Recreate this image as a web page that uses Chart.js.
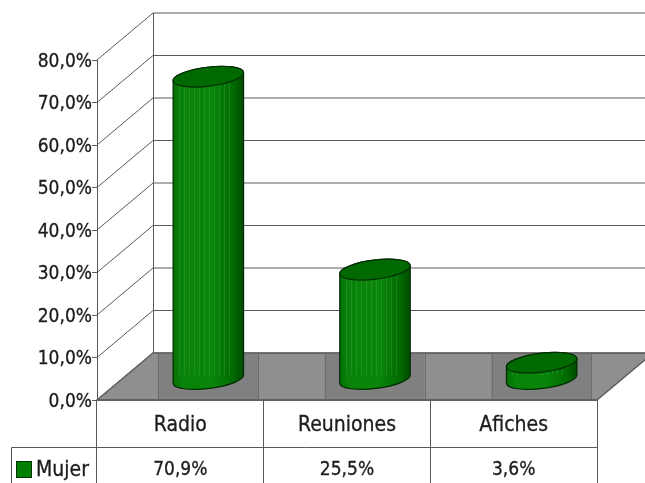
<!DOCTYPE html>
<html>
<head>
<meta charset="utf-8">
<style>
  html, body { margin: 0; padding: 0; background: #fff; overflow: hidden; }
  #grafico { display: block; }
</style>
<script src="https://cdn.jsdelivr.net/npm/chart.js@4"></script>
</head>
<body>
<div style="width:645px;height:483px;position:relative">
  <canvas id="grafico"></canvas>
</div>
<script>
const categorias = ["Radio", "Reuniones", "Afiches"];
const valoresMujer = [70.9, 25.5, 3.6];
const rotulosTabla = ["70,9%", "25,5%", "3,6%"];
const nomeSerie = "Mujer";

const fonte = '"DejaVu Sans Condensed", "DejaVu Sans", sans-serif';
const corLinha = "#5a5a5a";
const corTexto = "#1c1c1c";
// profundidade da perspectiva 3D
const fundoX = 56;
const fundoY = -47;
const desvioCilindro = 28;

function textoForte(ctx, texto, x, y) {
  ctx.fillText(texto, x, y);
  ctx.strokeText(texto, x, y);
}

const cenario3d = {
  id: "cenario3d",
  beforeDatasetsDraw(chart) {
    const { ctx, chartArea, scales } = chart;
    const { left, right, bottom } = chartArea;
    const topoPiso = bottom + fundoY;
    ctx.save();
    ctx.lineWidth = 1;
    ctx.strokeStyle = corLinha;

    // linhas das paredes
    scales.y.ticks.forEach((t) => {
      const y = scales.y.getPixelForValue(t.value);
      ctx.beginPath();
      ctx.moveTo(left, y);
      ctx.lineTo(left + fundoX, y + fundoY);
      ctx.lineTo(chart.width + 5, y + fundoY);
      ctx.stroke();
    });
    ctx.beginPath();
    ctx.moveTo(left + fundoX + 0.5, scales.y.getPixelForValue(80) + fundoY);
    ctx.lineTo(left + fundoX + 0.5, topoPiso);
    ctx.stroke();

    // piso
    const piso = new Path2D();
    piso.moveTo(left, bottom);
    piso.lineTo(right, bottom);
    piso.lineTo(right + fundoX, topoPiso);
    piso.lineTo(left + fundoX, topoPiso);
    piso.closePath();
    ctx.fillStyle = "#808080";
    ctx.fill(piso);

    // manchas mais claras entre os cilindros
    ctx.save();
    ctx.clip(piso);
    const barras = chart.getDatasetMeta(0).data;
    const cantos = [left - 5];
    barras.forEach((b) => {
      cantos.push(b.x + desvioCilindro - b.width / 2 - 15);
      cantos.push(b.x + desvioCilindro + b.width / 2 + 14);
    });
    cantos.push(chart.width + 10);
    for (let i = 0; i < cantos.length; i += 2) {
      const x = cantos[i];
      const w = cantos[i + 1] - x;
      ctx.fillStyle = "#8f8f8f";
      ctx.fillRect(x, topoPiso, w, -fundoY);
      ctx.strokeStyle = "#6c6c6c";
      ctx.strokeRect(Math.round(x) + 0.5, topoPiso + 0.5, Math.round(w), -fundoY - 1);
    }
    ctx.restore();

    ctx.strokeStyle = "#606060";
    ctx.lineWidth = 1.5;
    ctx.stroke(piso);
    ctx.beginPath();
    ctx.moveTo(left, bottom);
    ctx.lineTo(right, bottom);
    ctx.lineWidth = 2;
    ctx.stroke();

    // tabela de dados
    ctx.lineWidth = 1;
    ctx.strokeStyle = corLinha;
    ctx.beginPath();
    ctx.moveTo(11.5, chart.height);
    ctx.lineTo(11.5, 447.5);
    ctx.lineTo(right, 447.5);
    ctx.stroke();
    ctx.fillStyle = "#008000";
    ctx.strokeStyle = "#003300";
    ctx.fillRect(16, 461, 16, 17);
    ctx.strokeRect(16.5, 461.5, 15, 16);
    ctx.fillStyle = corTexto;
    ctx.strokeStyle = corTexto;
    ctx.lineWidth = 0.3;
    ctx.textBaseline = "middle";
    ctx.textAlign = "left";
    ctx.font = "21px " + fonte;
    textoForte(ctx, nomeSerie, 36, 471);
    ctx.font = "19px " + fonte;
    ctx.textAlign = "center";
    rotulosTabla.forEach((r, i) => {
      textoForte(ctx, r, scales.x.getPixelForValue(i), 470);
    });
    ctx.restore();
  },
  beforeDatasetDraw(chart, args) {
    const { ctx, scales } = chart;
    const meta = chart.getDatasetMeta(args.index);
    const base = scales.y.getPixelForValue(0);
    const rot = (-7 * Math.PI) / 180;
    const ry = 9.5;
    meta.data.forEach((bar) => {
      const cx = bar.x + desvioCilindro;
      const rx = bar.width / 2;
      const topo = bar.y - 22;
      const fim = base - 21;
      ctx.save();
      const corpo = new Path2D();
      corpo.ellipse(cx, fim, rx, ry, rot, 0, Math.PI, false);
      corpo.ellipse(cx, topo, rx, ry, rot, Math.PI, 0, false);
      corpo.closePath();
      const grad = ctx.createLinearGradient(cx - rx, 0, cx + rx, 0);
      grad.addColorStop(0, "#056f05");
      grad.addColorStop(0.12, "#088208");
      grad.addColorStop(0.55, "#0a860a");
      grad.addColorStop(0.85, "#006a00");
      grad.addColorStop(1, "#004a00");
      ctx.fillStyle = grad;
      ctx.fill(corpo);

      ctx.save();
      ctx.clip(corpo);
      ctx.strokeStyle = "rgba(110,200,110,0.2)";
      ctx.lineWidth = 1;
      for (let x = cx - rx + 6; x < cx + rx - 10; x += 5) {
        ctx.beginPath();
        ctx.moveTo(Math.round(x) + 0.5, topo - 12);
        ctx.lineTo(Math.round(x) + 0.5, fim - 4);
        ctx.stroke();
      }
      ctx.restore();

      ctx.strokeStyle = "#002c00";
      ctx.lineWidth = 1.2;
      ctx.stroke(corpo);
      const tampa = new Path2D();
      tampa.ellipse(cx, topo, rx, ry, rot, 0, Math.PI * 2);
      ctx.fillStyle = "#006a00";
      ctx.fill(tampa);
      ctx.stroke(tampa);
      ctx.restore();
    });
    return false;
  },
};

new Chart(document.getElementById("grafico"), {
  type: "bar",
  data: {
    labels: categorias,
    datasets: [
      {
        label: nomeSerie,
        data: valoresMujer,
        backgroundColor: "#008000",
        barThickness: 71,
      },
    ],
  },
  options: {
    responsive: true,
    maintainAspectRatio: false,
    animation: false,
    events: [],
    layout: { padding: { top: 60, right: 48, left: 0, bottom: 0 } },
    plugins: { legend: { display: false }, tooltip: { enabled: false } },
    scales: {
      y: {
        min: 0,
        max: 80,
        afterFit: (s) => { s.width = 97; },
        ticks: {
          stepSize: 10,
          color: corTexto,
          padding: 0,
          labelOffset: 2,
          textStrokeColor: corTexto,
          textStrokeWidth: 0.3,
          font: { size: 19, family: fonte },
          callback: (v) => v.toFixed(1).replace(".", ",") + "%",
        },
        grid: { drawOnChartArea: false, color: corLinha, tickLength: 5 },
        border: { color: corLinha },
      },
      x: {
        afterFit: (s) => { s.height = 83; },
        ticks: {
          color: corTexto,
          padding: -70,
          textStrokeColor: corTexto,
          textStrokeWidth: 0.3,
          font: { size: 21, family: fonte },
        },
        grid: { drawOnChartArea: false, color: corLinha, tickLength: 83 },
        border: { display: false },
      },
    },
  },
  plugins: [cenario3d],
});
</script>
</body>
</html>
